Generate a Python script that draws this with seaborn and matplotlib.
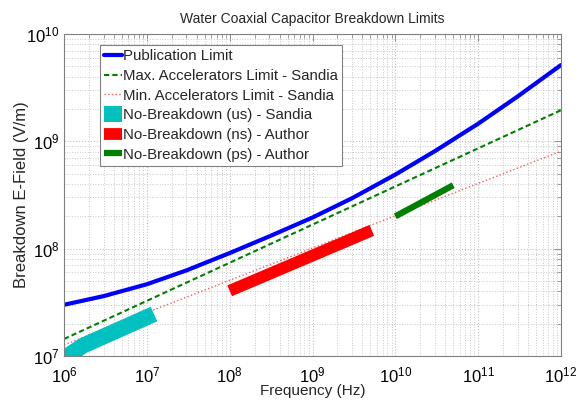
import matplotlib
matplotlib.use("Agg")
import matplotlib.pyplot as plt
import seaborn as sns
import numpy as np
import pandas as pd
from matplotlib.ticker import LogLocator, NullFormatter

# ---- data ----
freq_pub = [1e6, 3e6, 1e7, 3e7, 1e8, 3e8, 1e9, 3e9, 1e10, 3e10, 1e11, 3e11, 1e12]
e_pub = [3.0e7, 3.61e7, 4.66e7, 6.27e7, 9.1e7, 1.30e8, 1.95e8, 2.95e8, 4.90e8,
         8.1e8, 1.46e9, 2.62e9, 5.14e9]

freq_max = [1e6, 1e12]
e_max = [1.44e7, 1.95e9]

freq_min = [1e6, 1e12]
e_min = [1.27e7, 8.1e8]

freq_us = [1e6, 1.7e6, 1.22e7]
e_us = [9.5e6, 1.25e7, 2.46e7]

freq_ns = [1e8, 5.2e9]
e_ns = [4.05e7, 1.48e8]

freq_ps = [1e10, 5e10]
e_ps = [2.0e8, 3.9e8]

labels = ["Publication Limit",
          "Max. Accelerators Limit - Sandia",
          "Min. Accelerators Limit - Sandia",
          "No-Breakdown (us) - Sandia",
          "No-Breakdown (ns) - Author",
          "No-Breakdown (ps) - Author"]

sns.set_style("white")
plt.rcParams['font.family'] = ['Liberation Sans', 'DejaVu Sans']
plt.rcParams['mathtext.default'] = 'regular'
plt.rcParams['mathtext.fontset'] = 'custom'
plt.rcParams['mathtext.rm'] = 'Liberation Sans'

fig = plt.figure(figsize=(5.81, 4.0), dpi=100)
ax = fig.add_axes([64/581, 44/400, 497/581, 322/400])
ax.set_xscale('log')
ax.set_yscale('log')

sns.lineplot(x=freq_pub, y=e_pub, ax=ax, color='#0000ff', lw=3, label=labels[0])
sns.lineplot(x=freq_max, y=e_max, ax=ax, color='#008000', lw=1.5,
             linestyle=(0, (2.5, 1.5)), label=labels[1])
sns.lineplot(x=freq_min, y=e_min, ax=ax, color='#ff5a5a', lw=1.0,
             linestyle=':', label=labels[2])
sns.lineplot(x=freq_us, y=e_us, ax=ax, color='#00c0c0', lw=11.5,
             solid_capstyle='butt', solid_joinstyle='miter', label=labels[3])
sns.lineplot(x=freq_ns, y=e_ns, ax=ax, color='#ff0000', lw=8.5,
             solid_capstyle='butt', label=labels[4])
sns.lineplot(x=freq_ps, y=e_ps, ax=ax, color='#008000', lw=4.5,
             solid_capstyle='butt', label=labels[5])

ax.set_xlim(1e6, 1e12)
ax.set_ylim(1e7, 1e10)

ax.xaxis.set_major_locator(LogLocator(base=10, numticks=20))
ax.yaxis.set_major_locator(LogLocator(base=10, numticks=20))
ax.xaxis.set_minor_locator(LogLocator(base=10, subs=np.arange(2, 10), numticks=100))
ax.yaxis.set_minor_locator(LogLocator(base=10, subs=np.arange(2, 10), numticks=100))
ax.xaxis.set_minor_formatter(NullFormatter())
ax.yaxis.set_minor_formatter(NullFormatter())

ax.grid(True, which='major', color='#c0c0c0', linestyle=':', linewidth=0.8)
ax.grid(True, which='minor', color='#c8c8c8', linestyle=':', linewidth=0.7)
ax.set_axisbelow(True)

ax.tick_params(which='both', direction='in', top=True, right=True, colors='#808080',
               labelcolor='black', labelsize=12)
ax.tick_params(which='major', length=5, width=0.6)
ax.tick_params(which='minor', length=3, width=0.5)
ax.tick_params(axis='x', which='major', pad=7)
for s in ax.spines.values():
    s.set_color('#808080')
    s.set_linewidth(0.8)

ax.set_title("Water Coaxial Capacitor Breakdown Limits", fontsize=10, pad=8)
ax.set_xlabel("Frequency (Hz)", fontsize=11, labelpad=-1)
ax.set_ylabel("Breakdown E-Field (V/m)", fontsize=12, labelpad=-2)

leg = ax.legend(loc='upper left', bbox_to_anchor=(0.072, 0.967), borderaxespad=0,
                fontsize=10.8, frameon=True, fancybox=False, edgecolor='#808080',
                framealpha=1, handlelength=1.15, handletextpad=0.1, borderpad=0.3,
                labelspacing=0.38)
leg.get_frame().set_linewidth(0.8)

fig.savefig("out.png", dpi=100)
